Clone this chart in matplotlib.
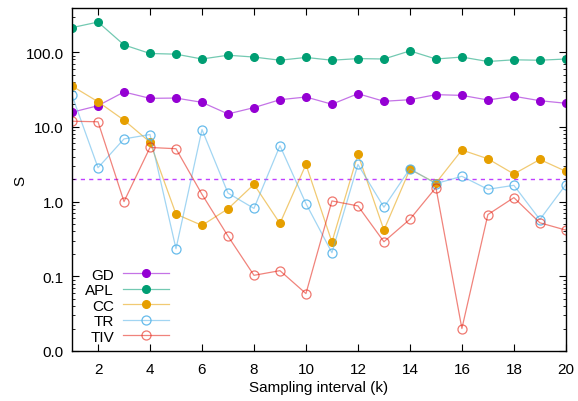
import numpy as np
import matplotlib
matplotlib.use("Agg")
import matplotlib.pyplot as plt
from matplotlib.ticker import FormatStrFormatter, LogLocator, NullFormatter
from matplotlib.colors import to_rgb

plt.rcParams["font.family"] = ["Liberation Sans", "DejaVu Sans"]
plt.rcParams["font.size"] = 11

k = np.arange(1, 21)

gd = [15.7, 19.2, 29.3, 24.1, 24.3, 21.3, 14.9, 18.1, 23.1, 25.1,
      20.1, 27.8, 22.0, 23.1, 27.0, 26.4, 22.9, 25.7, 22.4, 20.7]
apl = [213, 253, 125, 96, 94, 81, 91, 86, 78, 85,
       78, 82, 81, 104, 81, 86, 75, 79, 78, 81]
cc = [35.2, 21.7, 12.3, 6.25, 0.68, 0.48, 0.80, 1.70, 0.51, 3.14,
      0.287, 4.3, 0.415, 2.7, 1.77, 4.9, 3.74, 2.34, 3.66, 2.54]
tr = [26.4, 2.84, 6.9, 7.9, 0.234, 9.2, 1.3, 0.81, 5.6, 0.94,
      0.207, 3.14, 0.84, 2.75, 1.74, 2.18, 1.46, 1.65, 0.575, 1.69]
tiv = [11.9, 11.7, 1.0, 5.3, 5.1, 1.25, 0.345, 0.103, 0.119, 0.0587,
       1.02, 0.875, 0.29, 0.58, 1.54, 0.020, 0.67, 1.13, 0.52, 0.415]
threshold = 2.0

series = [
    ("GD", gd, "#9400d3", True),
    ("APL", apl, "#009e73", True),
    ("CC", cc, "#e69f00", True),
    ("TR", tr, "#56b4e9", False),
    ("TIV", tiv, "#e51e10", False),
]

fig = plt.figure(figsize=(5.78, 4.02), dpi=100)
ax = fig.add_axes([0.1246, 0.1244, 0.979 - 0.1246, 0.9776 - 0.1244])

for name, vals, col, filled in series:
    rgb = to_rgb(col)
    line_col = rgb + (0.55,)
    if filled:
        ax.plot(k, vals, color=line_col, lw=0.9, marker="o", ms=5.5,
                mfc=col, mec=col, label=name)
    else:
        edge = rgb + (0.6,) if name == "TIV" else rgb + (0.9,)
        ax.plot(k, vals, color=line_col, lw=0.9, marker="o", ms=6.5,
                mfc="none", mec=edge, mew=0.9, label=name)

ax.axhline(threshold, color="#c040ff", lw=1.0, ls=(0, (3, 3)), zorder=1)

ax.set_yscale("log")
ax.set_ylim(0.01, 390)
ax.set_xlim(1, 20)
ax.set_xticks(np.arange(2, 21, 2))
ax.yaxis.set_major_locator(LogLocator(base=10, numticks=10))
ax.yaxis.set_major_formatter(FormatStrFormatter("%.1f"))
ax.yaxis.set_minor_locator(LogLocator(base=10, subs=np.arange(2, 10), numticks=20))
ax.yaxis.set_minor_formatter(NullFormatter())

ax.tick_params(which="both", direction="in", top=True, right=True)
ax.tick_params(which="major", length=5, width=0.8, labelsize=11, pad=6)
ax.tick_params(axis="x", which="major", pad=8)
ax.tick_params(which="minor", length=2.5, width=0.6)
for s in ax.spines.values():
    s.set_linewidth(1.0)

ax.set_xlabel("Sampling interval (k)", fontsize=11, labelpad=3)
ax.set_ylabel("S", fontsize=11, labelpad=-1)

# markerfirst=False right-aligns the rows, so labels end up flush right
ax.legend(loc="lower left", markerfirst=False, frameon=False,
          handlelength=3.0, handletextpad=0.6, labelspacing=0.1,
          fontsize=11, bbox_to_anchor=(0.005, -0.01), borderaxespad=0.3)

fig.savefig("out.png", dpi=100)
